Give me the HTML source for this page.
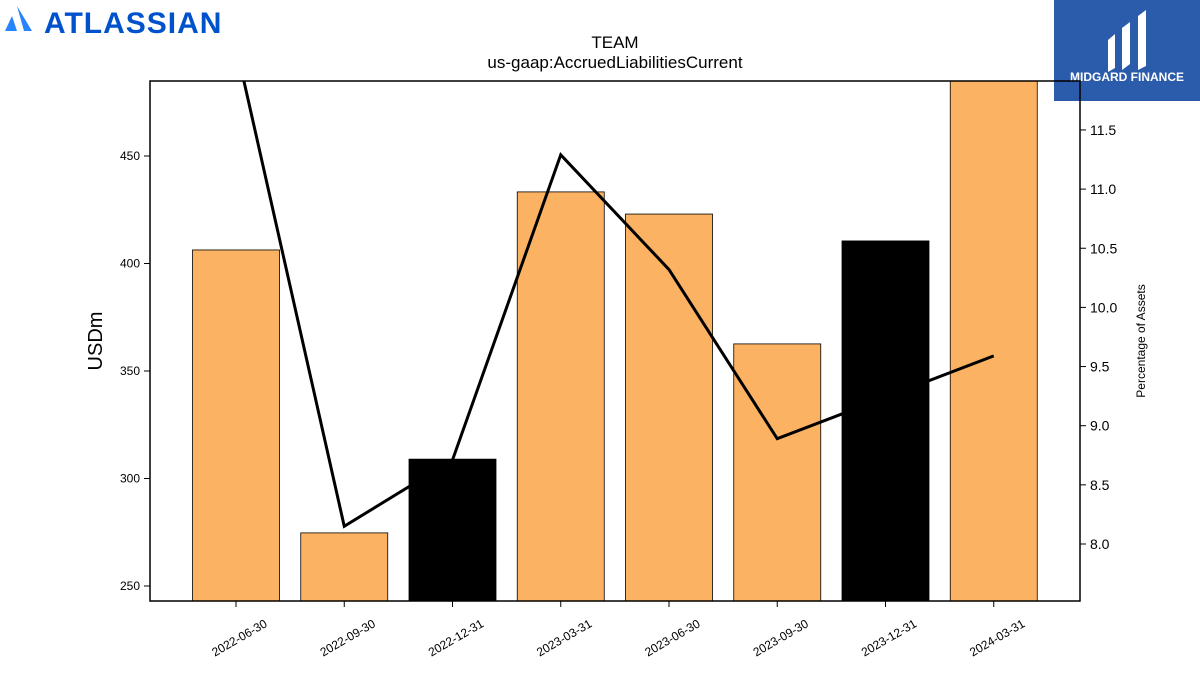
<!DOCTYPE html>
<html><head><meta charset="utf-8"><style>
body{margin:0;background:#fff;width:1200px;height:675px;overflow:hidden;font-family:"Liberation Sans",sans-serif}
</style></head><body>
<svg width="1200" height="675" xmlns="http://www.w3.org/2000/svg">
<g>
<path d="M17 6 L32 31 L24 31 Z M12 16 L5 31 L17 31 Z" fill="#2684ff"/>
<text x="44" y="33" font-size="30" font-weight="bold" fill="#0052cc" letter-spacing="1">ATLASSIAN</text>
</g>
<g>
<rect x="1054" y="0" width="146" height="101" fill="#2b5bab"/>
<path d="M1108 40 L1115 34 L1115 68 L1108 72 Z M1122 28 L1130 22 L1130 64 L1122 70 Z M1138 16 L1146 10 L1146 66 L1138 70 Z" fill="#fff"/>
<text x="1127" y="81" font-size="12" font-weight="bold" fill="#fff" text-anchor="middle">MIDGARD FINANCE</text>
</g>
<text x="615" y="48" font-size="17" text-anchor="middle">TEAM</text>
<text x="615" y="68" font-size="17" text-anchor="middle">us-gaap:AccruedLiabilitiesCurrent</text>
<defs><clipPath id="cp"><rect x="150" y="81" width="930" height="520"/></clipPath></defs>
<g id="bars" clip-path="url(#cp)"></g>
<g id="line" clip-path="url(#cp)"></g>
<rect x="150" y="81" width="930" height="520" fill="none" stroke="#000" stroke-width="1.5"/>
<g id="axes"></g>
<text transform="translate(102,341) rotate(-90)" font-size="20" text-anchor="middle">USDm</text>
<text transform="translate(1145,341) rotate(-90)" font-size="12" text-anchor="middle">Percentage of Assets</text>
</svg>
<script>
const categories=["2022-06-30","2022-09-30","2022-12-31","2023-03-31","2023-06-30","2023-09-30","2023-12-31","2024-03-31"];
const values=[406.3,274.7,309,433.3,423,362.6,410.5,500];
const highlight=[0,0,1,0,0,0,1,0];
const pctValues=[12.21,8.15,8.71,11.29,10.32,8.89,9.24,9.59];
const leftTicks=[250,300,350,400,450];
const rightTicks=[8.0,8.5,9.0,9.5,10.0,10.5,11.0,11.5];
const NS="http://www.w3.org/2000/svg";
const yL=v=>586-(v-250)*2.15;
const yR=p=>544-(p-8)*118.3;
const xC=i=>236+i*108.25;
const bw=87;
function mk(t,a,p){const e=document.createElementNS(NS,t);for(const k in a)e.setAttribute(k,a[k]);p.appendChild(e);return e;}
const bars=document.getElementById('bars'),line=document.getElementById('line'),axes=document.getElementById('axes');
values.forEach((v,i)=>{
 const r=mk('rect',{x:xC(i)-bw/2,y:yL(v),width:bw,height:601-yL(v),fill:highlight[i]?'#000':'#fbb363',stroke:'#000','stroke-width':0.8},bars);
 
 
});
const pl=mk('polyline',{points:pctValues.map((p,i)=>xC(i)+','+yR(p)).join(' '),fill:'none',stroke:'#000','stroke-width':3},line);


leftTicks.forEach(t=>{
 const y=yL(t);
 mk('line',{x1:144,x2:150,y1:y,y2:y,stroke:'#000'},axes);
 const tx=mk('text',{x:140,y:y+4,'font-size':12,'text-anchor':'end'},axes);tx.textContent=t;
 
 
});
rightTicks.forEach(t=>{
 const y=yR(t);
 mk('line',{x1:1080,x2:1086,y1:y,y2:y,stroke:'#000'},axes);
 const tx=mk('text',{x:1090,y:y+5,'font-size':14},axes);tx.textContent=t.toFixed(1);
 
 
});
categories.forEach((c,i)=>{
 const x=xC(i);
 mk('line',{x1:x,x2:x,y1:601,y2:607,stroke:'#000'},axes);
 const tx=mk('text',{transform:`translate(${x+32},${626}) rotate(-30)`,'font-size':12,'text-anchor':'end'},axes);tx.textContent=c;
 
 
});
</script>
</body></html>
